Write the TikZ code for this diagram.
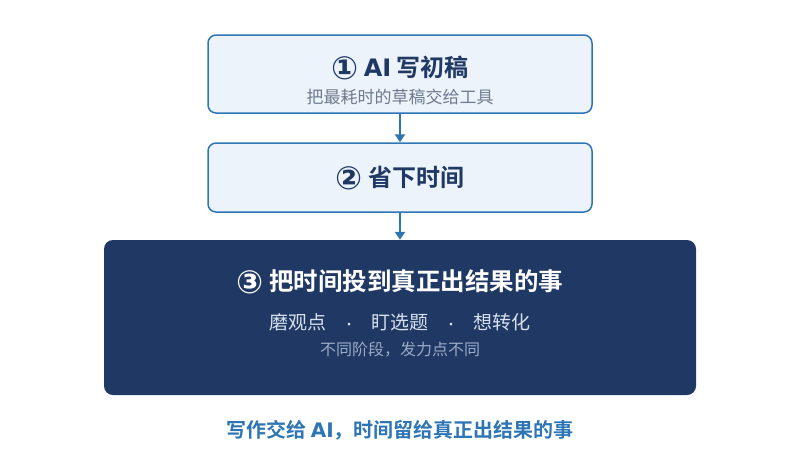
\documentclass[tikz,border=0pt]{standalone}
\usepackage{fontspec}
\setmainfont{Noto Sans CJK SC}[BoldFont={* Bold}]
\newfontfamily\dejavu{DejaVu Sans}
\usetikzlibrary{arrows.meta}
\definecolor{navy}{HTML}{1F3864}
\definecolor{lightbox}{HTML}{EDF3FB}
\definecolor{edgeblue}{HTML}{2E75B6}
\definecolor{subgray}{HTML}{6E7B8E}
\definecolor{paleblue}{HTML}{D6E0EE}
\definecolor{dimblue}{HTML}{9AAAC2}
\tikzset{
  lightstep/.style={draw=edgeblue, line width=1.5pt, fill=lightbox, rounded corners=8pt, minimum width=384pt},
  darkstep/.style={fill=navy, rounded corners=9pt, minimum width=592pt, minimum height=155pt},
  flow/.style={draw=edgeblue, line width=2pt, -{Triangle[width=10pt,length=8pt]}},
  txt/.style={inner sep=0pt, anchor=center}
}
\newcommand{\circnum}[1]{\raisebox{-2.5pt}{\fontsize{32}{34}\dejavu\bfseries #1}}
\newcommand{\latinw}[1]{{\dejavu\bfseries #1}}
\newcommand{\middot}{{\fontsize{13}{15}\selectfont ·}}
\begin{document}
\begin{tikzpicture}[x=1pt,y=-1pt]
\useasboundingbox (0,0) rectangle (800,459);
\node[lightstep, minimum height=78pt] (b1) at (400,74) {};
\node[lightstep, minimum height=69pt] (b2) at (400,177.5) {};
\node[darkstep] (b3) at (400,317.5) {};
\node[txt, text=navy, font=\fontsize{24}{27}\selectfont\bfseries] (t1) at (400,68) {\circnum{①} \latinw{AI} 写初稿};
\node[txt, text=subgray, font=\fontsize{17}{20}\selectfont] (s1) at (400,97) {把最耗时的草稿交给工具};
\node[txt, text=navy, font=\fontsize{24}{27}\selectfont\bfseries] (t2) at (400,178) {\circnum{②} 省下时间};
\node[txt, text=white, font=\fontsize{24.5}{27}\selectfont\bfseries] (t3) at (400,282) {\circnum{③} 把时间投到真正出结果的事};
\node[txt, text=paleblue, font=\fontsize{19}{22}\selectfont] (s3) at (400,322) {磨观点\hspace{16pt}\middot\hspace{16pt}盯选题\hspace{16pt}\middot\hspace{16pt}想转化};
\node[txt, text=dimblue, font=\fontsize{16}{18}\selectfont] (n3) at (400,350) {不同阶段，发力点不同};
\node[txt, text=edgeblue, font=\fontsize{20}{23}\selectfont\bfseries] (cap) at (400,430) {写作交给 \latinw{AI}，时间留给真正出结果的事};
\draw[flow] (b1.south) -- (b2.north);
\draw[flow] (b2.south) -- (b3.north);
\end{tikzpicture}
\end{document}
